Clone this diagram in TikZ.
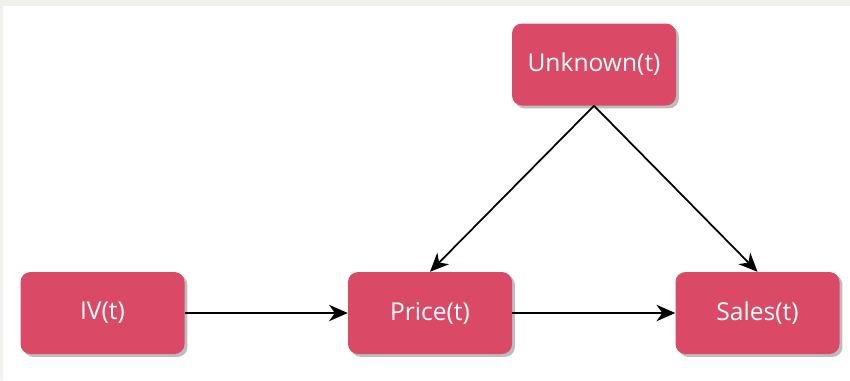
\documentclass[tikz,border=0pt]{standalone}
\usepackage{fontspec}
\setmainfont{Open Sans}
\usetikzlibrary{arrows.meta,shadows}

\definecolor{boxred}{HTML}{DA4A66}
\definecolor{edgegrey}{HTML}{F0F0EC}
\definecolor{shadowgrey}{HTML}{BDBDBD}

\tikzset{
  var/.style={rectangle, rounded corners=10*0.03cm, fill=boxred, text=white,
    minimum width=164*0.03cm, minimum height=82*0.03cm, inner sep=0pt,
    font=\fontsize{21}{25}\selectfont,
    drop shadow={shadow xshift=2.5pt, shadow yshift=-2.5pt, fill=shadowgrey, opacity=1}},
  link/.style={-{Stealth[length=16pt, width=14pt, inset=5pt]}, line width=1.5pt, black}
}

\begin{document}
\begin{tikzpicture}[x=0.03cm, y=-0.03cm]

   % background and frame
   \fill [edgegrey] (0,0) rectangle (850,380);
   \fill [white] (3,6) rectangle (850,380);
   \useasboundingbox (0,0) rectangle (850,380);

   % variables
   \node [var] (unknown) at (594,64.5) {Unknown(t)};
   \node [var] (iv) at (102.5,313) {IV(t)};
   \node [var] (price) at (430,313) {Price(t)};
   \node [var] (sales) at (757.5,313) {Sales(t)};

   % causal links
   \draw [link] (iv) -- (price);
   \draw [link] (price) -- (sales);
   \draw [link] (unknown.south) -- (price.north);
   \draw [link] (unknown.south) -- (sales.north);

\end{tikzpicture}
\end{document}
